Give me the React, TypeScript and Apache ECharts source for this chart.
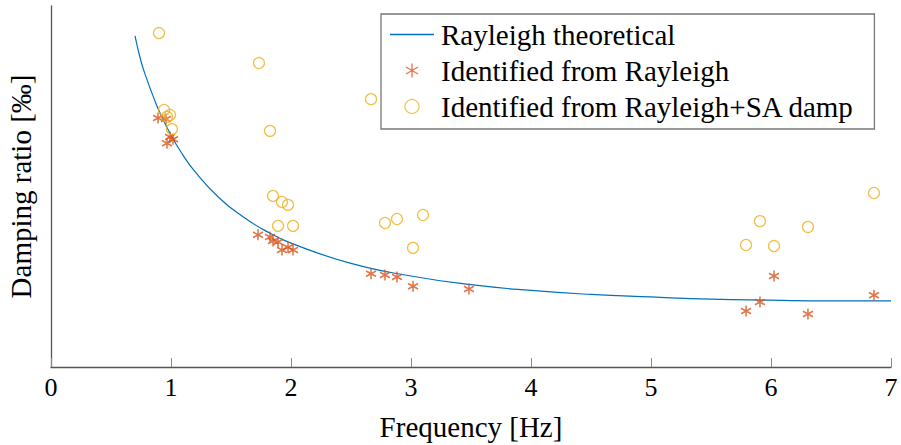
import React, { useEffect, useRef } from "react";
import * as echarts from "echarts";

const xTicks = [0, 1, 2, 3, 4, 5, 6, 7];

// Rayleigh theoretical curve: [frequency Hz, damping ‰]
const theoretical: [number, number][] = [
  [0.7, 9.17], [0.75, 8.47], [0.8, 7.96], [0.85, 7.51], [0.9, 7.1], [1.0, 6.42],
  [1.1, 5.87], [1.2, 5.41], [1.4, 4.69], [1.6, 4.16], [1.8, 3.75], [2.0, 3.43],
  [2.5, 2.87], [3.0, 2.52], [3.5, 2.28], [4.0, 2.12], [4.5, 2.01], [5.0, 1.94],
  [5.5, 1.88], [6.0, 1.85], [6.5, 1.83], [7.0, 1.83],
];

// Identified from Rayleigh
const identifiedRayleigh: [number, number][] = [
  [0.892, 6.9], [0.958, 6.87], [0.992, 6.37], [1.017, 6.31], [0.967, 6.2],
  [1.725, 3.66], [1.825, 3.6], [1.85, 3.49], [1.892, 3.46], [1.925, 3.24],
  [1.975, 3.32], [2.017, 3.24], [2.667, 2.58], [2.783, 2.55], [2.883, 2.49],
  [3.017, 2.24], [3.483, 2.16], [5.792, 1.55], [5.908, 1.8], [6.025, 2.52],
  [6.308, 1.47], [6.858, 1.99],
];

// Identified from Rayleigh+SA damp
const identifiedSA: [number, number][] = [
  [0.9, 9.25], [0.942, 7.12], [0.992, 6.98], [0.967, 6.93], [1.008, 6.59],
  [1.733, 8.42], [1.825, 6.54], [2.667, 7.42], [1.85, 4.74], [1.925, 4.57],
  [1.975, 4.49], [1.892, 3.91], [2.017, 3.91], [2.783, 3.99], [2.883, 4.1],
  [3.1, 4.21], [3.017, 3.3], [5.792, 3.38], [5.908, 4.04], [6.025, 3.35],
  [6.308, 3.88], [6.858, 4.82],
];

const seriesNames = [
  "Rayleigh theoretical",
  "Identified from Rayleigh",
  "Identified from Rayleigh+SA damp",
];

const FONT = "'Liberation Serif', 'DejaVu Serif', serif";
const asterisk = "path://M10,0L10,20M1.34,5L18.66,15M1.34,15L18.66,5";
const lineIcon = "path://M0,0L44,0L44,1.3L0,1.3Z";

export default function App() {
  const ref = useRef<HTMLDivElement>(null);
  useEffect(() => {
    if (!ref.current) return;
    const chart = echarts.init(ref.current, null, { renderer: "svg" });
    chart.setOption({
      animation: false,
      backgroundColor: "#ffffff",
      grid: { left: 51, right: 10, top: 6, bottom: 78, containLabel: false, outerBoundsMode: "none" },
      xAxis: {
        type: "value",
        min: xTicks[0],
        max: xTicks[xTicks.length - 1],
        interval: 1,
        name: "Frequency [Hz]",
        nameLocation: "middle",
        nameGap: 45,
        nameTextStyle: { fontFamily: FONT, fontSize: 29, color: "#000" },
        axisLine: { show: true, lineStyle: { color: "#555", width: 1.3 } },
        axisTick: { show: true, inside: true, length: 9, lineStyle: { color: "#888", width: 1 } },
        axisLabel: { fontFamily: FONT, fontSize: 26, color: "#000", margin: 7 },
        splitLine: { show: false },
      },
      yAxis: {
        type: "value",
        min: 0,
        max: 10,
        name: "Damping ratio [‰]",
        nameLocation: "middle",
        nameGap: 16,
        nameTextStyle: { fontFamily: FONT, fontSize: 29, color: "#000" },
        axisLine: { show: true, lineStyle: { color: "#555", width: 1.3 } },
        axisTick: { show: false },
        axisLabel: { show: false },
        splitLine: { show: false },
      },
      legend: {
        orient: "vertical",
        left: 381,
        top: 14,
        padding: [6, 20, 8, 9],
        itemGap: 7,
        itemWidth: 44,
        itemHeight: 14,
        backgroundColor: "#fff",
        borderColor: "#777",
        borderWidth: 1.3,
        borderRadius: 0,
        textStyle: { fontFamily: FONT, fontSize: 29, color: "#000", padding: [0, 0, 0, 2] },
        data: [
          { name: seriesNames[0], icon: lineIcon, itemStyle: { color: "#0072BD", borderWidth: 0 } },
          { name: seriesNames[1], icon: asterisk, itemStyle: { color: "transparent", borderColor: "#D95319", borderWidth: 1.3 } },
          { name: seriesNames[2], icon: "circle", itemStyle: { color: "transparent", borderColor: "#EDB120", borderWidth: 1.2 } },
        ],
      },
      series: [
        {
          name: seriesNames[0],
          type: "line",
          data: theoretical,
          smooth: true,
          showSymbol: false,
          symbol: "none",
          lineStyle: { color: "#0072BD", width: 1.2 },
          itemStyle: { color: "#0072BD" },
          z: 2,
        },
        {
          name: seriesNames[1],
          type: "scatter",
          data: identifiedRayleigh,
          symbol: asterisk,
          symbolSize: [10, 11],
          itemStyle: { color: "transparent", borderColor: "#D95319", borderWidth: 1.6 },
          z: 3,
        },
        {
          name: seriesNames[2],
          type: "scatter",
          data: identifiedSA,
          symbol: "circle",
          symbolSize: 11,
          itemStyle: { color: "transparent", borderColor: "#EDB120", borderWidth: 1.3 },
          z: 3,
        },
      ],
    });
    return () => chart.dispose();
  }, []);
  return (
    <div
      ref={ref}
      style={{ position: "fixed", left: 0, top: 0, width: 901, height: 445, background: "#fff" }}
    />
  );
}
